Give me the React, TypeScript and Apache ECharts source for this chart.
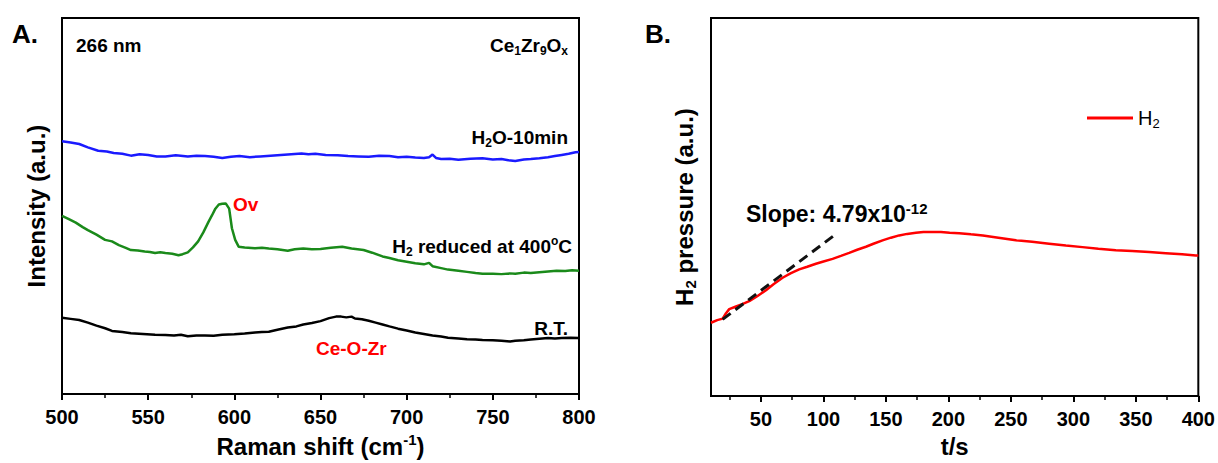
import { useEffect, useRef } from 'react';
import * as echarts from 'echarts';

// ---------- Panel A: Raman spectra (Raman shift cm-1, intensity a.u.) ----------
const h2oCurve: [number, number][] = [
  [500, 67.2], [505, 66.9], [510, 66.5], [515, 65.6], [521, 64.7], [526, 64.5], [530, 64.1], [535, 63.9], [540, 63.4],
  [545, 63.8], [550, 63.6], [555, 63.2], [560, 63.2], [566, 63.5], [573, 63.2], [578, 63.4], [583, 63.3],
  [588, 63.1], [593, 62.8], [598, 63.1], [603, 63.3], [609, 63.0], [615, 63.2], [621, 63.4], [627, 63.6],
  [633, 63.8], [639, 64.0], [643, 63.8], [647, 63.9], [653, 63.6], [660, 63.5], [666, 63.3], [672, 63.2],
  [678, 63.1], [684, 63.4], [690, 63.3], [695, 63.0], [700, 63.1], [705, 62.9], [710, 62.8], [713, 63.0],
  [715, 63.7], [717, 62.8], [720, 62.5], [725, 62.6], [730, 62.3], [737, 62.6], [744, 62.7], [750, 62.4],
  [755, 62.5], [759, 62.2], [763, 62.0], [768, 62.4], [772, 62.5], [777, 62.7], [782, 63.0], [786, 63.3],
  [790, 63.6], [794, 63.9], [798, 64.3], [800, 64.4],
];

const reducedCurve: [number, number][] = [
  [500, 47.4], [504, 46.5], [508, 45.6], [512, 44.4], [515, 43.6], [520, 42.4], [525, 41.0], [529, 40.6],
  [533, 39.6], [537, 38.9], [540, 38.3], [544, 38.2], [548, 37.9], [551, 37.8], [554, 37.5], [557, 37.7],
  [560, 37.5], [564, 37.3], [567.6, 36.9], [570, 37.2], [573, 37.7], [576, 39.0], [579, 40.6], [582, 43.0],
  [585, 45.8], [587, 47.5], [589, 49.3], [591, 50.4], [593, 50.6], [595, 50.7], [597, 49.3], [598.6, 44.1],
  [600.5, 41.0], [602.5, 39.2], [606, 39.0], [612, 38.8], [616, 38.9], [620, 38.7], [625, 38.5], [631, 38.1],
  [635, 38.5], [640, 38.7], [645, 38.5], [650, 38.6], [656, 38.9], [662.6, 39.2], [668, 38.7], [675, 38.3],
  [680, 37.6], [686, 36.6], [690, 36.2], [695, 35.6], [700, 35.2], [705, 34.8], [710, 34.5], [713, 34.9],
  [715, 34.0], [720, 33.5], [724, 33.1], [730, 32.8], [735, 32.5], [740, 32.2], [744, 32.0], [750, 32.0],
  [755, 31.9], [760, 32.1], [763, 32.0], [768, 32.3], [772, 32.2], [777, 32.4], [782, 32.6], [787, 32.8],
  [792, 32.7], [796, 32.9], [800, 32.8],
];

const rtCurve: [number, number][] = [
  [500, 20.3], [505, 20.0], [510, 19.7], [515, 19.0], [520, 18.2], [525, 17.5], [529, 16.8], [535, 16.5],
  [540, 16.2], [547, 16.0], [554, 15.8], [560, 15.7], [565, 15.6], [569, 15.8], [573, 15.4], [578, 15.6],
  [583, 15.6], [588, 15.5], [593, 15.8], [600, 15.9], [606, 16.1], [612, 16.4], [616, 16.5], [620, 16.6],
  [625, 17.1], [631, 17.7], [636, 18.0], [640, 18.5], [645, 18.9], [650, 19.4], [655, 20.2], [659, 20.6],
  [662, 20.6], [665, 20.4], [668, 20.6], [670, 20.1], [674, 19.9], [678, 19.5], [682, 19.0], [686, 18.5],
  [690, 18.0], [695, 17.4], [700, 16.9], [705, 16.4], [710, 16.0], [715, 15.6], [720, 15.3], [724, 15.0],
  [730, 14.8], [735, 14.6], [740, 14.5], [744, 14.4], [750, 14.3], [755, 14.2], [760, 14.0], [763, 14.2],
  [768, 14.3], [772, 14.5], [777, 14.7], [782, 14.9], [786, 14.8], [790, 14.9], [795, 15.0], [800, 14.9],
];

// ---------- Panel B: H2 pressure vs time ----------
const h2Time = [
  10, 15, 19.3, 22, 24.6, 30, 35, 40.6, 47, 54, 60, 67.3, 74, 80.6, 87, 94, 100, 107.3, 114, 120.6, 127, 134,
  140, 147.3, 154, 160.6, 167, 174, 180, 187.3, 194, 201, 208.6, 218, 227.6, 240, 254, 267, 280.6, 294, 307.3,
  320, 334, 347, 360.6, 374, 387, 398, 400,
];
const h2Pressure = [
  19.4, 20.1, 20.5, 21.9, 23.0, 23.7, 24.3, 25.1, 26.4, 28.0, 29.6, 31.3, 32.5, 33.5, 34.2, 35.0, 35.6, 36.3,
  37.1, 37.9, 38.7, 39.5, 40.3, 41.2, 41.9, 42.5, 42.9, 43.2, 43.4, 43.4, 43.4, 43.2, 43.1, 42.8, 42.5, 41.9,
  41.2, 40.8, 40.3, 39.8, 39.4, 39.0, 38.6, 38.4, 38.1, 37.8, 37.5, 37.2, 37.2,
];
const slopeLine: [number, number][] = [[19.3, 20.3], [108.6, 42.5]];

const ramanTicks = { min: 500, max: 800, interval: 50 };
const timeMajorTicks = [50, 100, 150, 200, 250, 300, 350, 400];
const timeMinorTicks = [25, 75, 125, 175, 225, 275, 325, 375];

const FONT = 'Arial, "Liberation Sans", Helvetica, sans-serif';

function richSet(size: number, weight: string, color: string, subSize: number) {
  return {
    m: { fontSize: size, fontWeight: weight, color, fill: color, fontFamily: FONT, lineHeight: size + 4, verticalAlign: 'middle' },
    s: { fontSize: subSize, fontWeight: weight, color, fill: color, fontFamily: FONT, lineHeight: subSize + 3, verticalAlign: 'bottom' },
    p: { fontSize: subSize, fontWeight: weight, color, fill: color, fontFamily: FONT, lineHeight: subSize, verticalAlign: 'top' },
  };
}

function label(x: number, y: number, text: string, align: string, size: number, weight: string, color: string, subSize = 12) {
  return {
    type: 'text',
    x,
    y,
    silent: true,
    style: {
      text,
      align,
      verticalAlign: 'middle',
      fill: color,
      fontFamily: FONT,
      fontSize: size,
      fontWeight: weight,
      rich: richSet(size, weight, color, subSize),
    },
  };
}

const axisLineStyle = { color: '#000', width: 2 };

export default function App() {
  const ref = useRef<HTMLDivElement>(null);
  useEffect(() => {
    const chart = echarts.init(ref.current!, null, { renderer: 'svg' });
    const option: any = {
      animation: false,
      backgroundColor: '#fff',
      grid: [
        { left: 62, top: 18, width: 517, height: 379, show: true, borderColor: '#000', borderWidth: 2 },
        { left: 711, top: 18, width: 489, height: 379, show: true, borderColor: '#000', borderWidth: 2 },
      ],
      xAxis: [
        {
          type: 'value', gridIndex: 0, min: ramanTicks.min, max: ramanTicks.max, interval: ramanTicks.interval,
          axisLine: { show: true, lineStyle: axisLineStyle },
          axisTick: { show: true, inside: false, length: 6, lineStyle: { color: '#000', width: 2 } },
          minorTick: { show: true, splitNumber: 2, length: 4, lineStyle: { color: '#000', width: 1.5 } },
          splitLine: { show: false },
          axisLabel: { color: '#000', fontSize: 20, fontWeight: 'bold', fontFamily: FONT, margin: 13 },
          name: '{m|Raman shift (cm}{p|-1}{m|)}',
          nameLocation: 'middle',
          nameGap: 35,
          nameTextStyle: { rich: richSet(24, 'bold', '#000', 15) },
        },
        {
          type: 'value', gridIndex: 1, min: 10, max: 400, position: 'bottom',
          axisLine: { show: true, lineStyle: axisLineStyle },
          axisTick: { show: true, inside: false, length: 6, customValues: timeMajorTicks, lineStyle: { color: '#000', width: 2 } },
          splitLine: { show: false },
          axisLabel: { customValues: timeMajorTicks, color: '#000', fontSize: 20, fontWeight: 'bold', fontFamily: FONT, margin: 13 },
          name: 't/s',
          nameLocation: 'middle',
          nameGap: 35,
          nameTextStyle: { color: '#000', fontSize: 24, fontWeight: 'bold', fontFamily: FONT },
        },
        {
          type: 'value', gridIndex: 1, min: 10, max: 400, position: 'bottom',
          axisLine: { show: false },
          axisTick: { show: true, inside: false, length: 4, customValues: timeMinorTicks, lineStyle: { color: '#000', width: 1.5 } },
          splitLine: { show: false },
          axisLabel: { show: false },
        },
      ],
      yAxis: [
        {
          type: 'value', gridIndex: 0, min: 0, max: 100,
          axisLine: { show: true, lineStyle: axisLineStyle },
          axisTick: { show: false }, axisLabel: { show: false }, splitLine: { show: false },
          name: 'Intensity (a.u.)',
          nameLocation: 'middle',
          nameGap: 14,
          nameTextStyle: { color: '#000', fontSize: 24, fontWeight: 'bold', fontFamily: FONT },
        },
        {
          type: 'value', gridIndex: 1, min: 0, max: 100,
          axisLine: { show: true, lineStyle: axisLineStyle },
          axisTick: { show: false }, axisLabel: { show: false }, splitLine: { show: false },
          name: '{m|H}{s|2}{m| pressure (a.u.)}',
          nameLocation: 'middle',
          nameGap: 13,
          nameTextStyle: { rich: richSet(24, 'bold', '#000', 15) },
        },
      ],
      legend: {
        data: ['H2'],
        left: 1087,
        top: 108,
        padding: 0,
        icon: 'rect',
        itemWidth: 46,
        itemHeight: 3,
        itemGap: 5,
        formatter: () => '{m|H}{s|2}',
        textStyle: { rich: richSet(20, 'normal', '#000', 13) },
      },
      series: [
        {
          type: 'line', name: 'H2O-10min', xAxisIndex: 0, yAxisIndex: 0, data: h2oCurve,
          showSymbol: false, symbol: 'none', lineStyle: { color: '#1a1aff', width: 2.5 }, itemStyle: { color: '#1a1aff' },
        },
        {
          type: 'line', name: 'H2 reduced at 400C', xAxisIndex: 0, yAxisIndex: 0, data: reducedCurve,
          showSymbol: false, symbol: 'none', lineStyle: { color: '#1a8a1a', width: 2.5 }, itemStyle: { color: '#1a8a1a' },
        },
        {
          type: 'line', name: 'R.T.', xAxisIndex: 0, yAxisIndex: 0, data: rtCurve,
          showSymbol: false, symbol: 'none', lineStyle: { color: '#000', width: 2.5 }, itemStyle: { color: '#000' },
        },
        {
          type: 'line', name: 'H2', xAxisIndex: 1, yAxisIndex: 1,
          data: h2Time.map((t, i) => [t, h2Pressure[i]]),
          showSymbol: false, symbol: 'none', lineStyle: { color: '#ff0000', width: 2.5 }, itemStyle: { color: '#ff0000' },
        },
        {
          type: 'line', name: 'Slope', xAxisIndex: 1, yAxisIndex: 1, data: slopeLine,
          showSymbol: false, symbol: 'none', lineStyle: { color: '#111', width: 3, type: [10, 6] }, itemStyle: { color: '#111' },
        },
      ],
      graphic: [
        label(12, 34, '{m|A.}', 'left', 26, 'bold', '#000'),
        label(645, 34, '{m|B.}', 'left', 26, 'bold', '#000'),
        label(76, 45, '{m|266 nm}', 'left', 19, 'bold', '#000'),
        label(568, 45, '{m|Ce}{s|1}{m|Zr}{s|9}{m|O}{s|x}', 'right', 19, 'bold', '#000', 12),
        label(568, 137, '{m|H}{s|2}{m|O-10min}', 'right', 19, 'bold', '#000', 12),
        label(572, 246, '{m|H}{s|2}{m| reduced at 400}{p|o}{m|C}', 'right', 19, 'bold', '#000', 12),
        label(568, 328, '{m|R.T.}', 'right', 19, 'bold', '#000'),
        label(233, 204, '{m|Ov}', 'left', 19, 'bold', '#ff0000'),
        label(316, 348, '{m|Ce-O-Zr}', 'left', 19, 'bold', '#ff0000'),
        label(746, 214, '{m|Slope: 4.79x10}{p|-12}', 'left', 23, 'bold', '#000', 15),
      ],
    };
    chart.setOption(option);
    return () => chart.dispose();
  }, []);
  return (
    <div
      ref={ref}
      style={{ position: 'fixed', left: 0, top: 0, width: 1218, height: 463, background: '#fff' }}
    />
  );
}
